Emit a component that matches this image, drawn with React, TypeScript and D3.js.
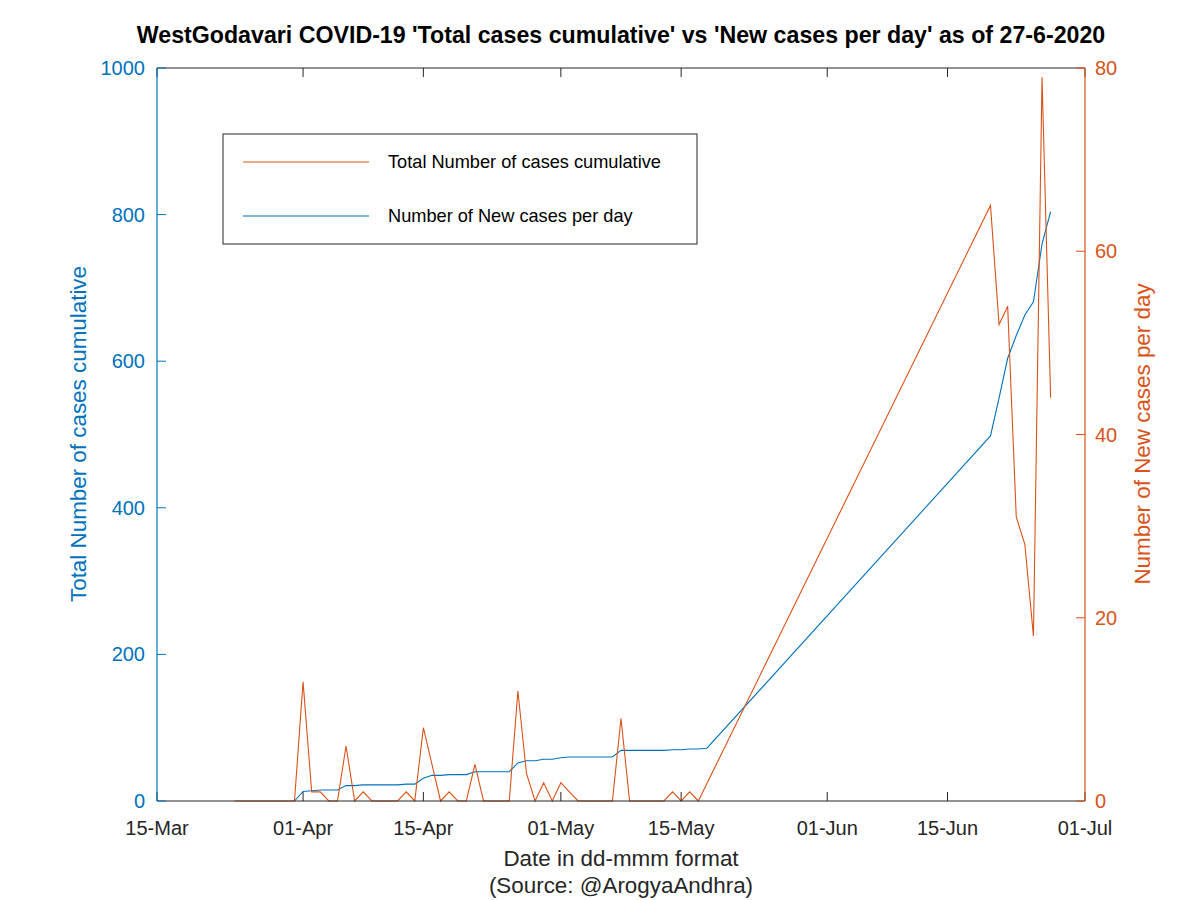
import React from "react";
import * as d3 from "d3";

const TITLE = "WestGodavari COVID-19 'Total cases cumulative' vs 'New cases per day' as of 27-6-2020";
const X_LABEL = "Date in dd-mmm format";
const X_SOURCE = "(Source: @ArogyaAndhra)";
const Y_LEFT_LABEL = "Total Number of cases cumulative";
const Y_RIGHT_LABEL = "Number of New cases per day";
const LEGEND_LABELS = ["Total Number of cases cumulative", "Number of New cases per day"];

const X_TICKS = ["2020-03-15", "2020-04-01", "2020-04-15", "2020-05-01", "2020-05-15", "2020-06-01", "2020-06-15", "2020-07-01"];
const LEFT_TICKS = [0, 200, 400, 600, 800, 1000];
const RIGHT_TICKS = [0, 20, 40, 60, 80];

// New cases per day (orange, right axis)
const newDates = [
  "03-24", "03-25", "03-26", "03-27", "03-28", "03-29", "03-30", "03-31",
  "04-01", "04-02", "04-03", "04-04", "04-05", "04-06", "04-07", "04-08", "04-09", "04-10",
  "04-11", "04-12", "04-13", "04-14", "04-15", "04-16", "04-17", "04-18", "04-19", "04-20",
  "04-21", "04-22", "04-23", "04-24", "04-25", "04-26", "04-27", "04-28", "04-29", "04-30",
  "05-01", "05-02", "05-03", "05-04", "05-05", "05-06", "05-07", "05-08", "05-09", "05-10",
  "05-11", "05-12", "05-13", "05-14", "05-15", "05-16", "05-17",
  "06-20", "06-21", "06-22", "06-23", "06-24", "06-25", "06-26", "06-27",
];
const newValues = [
  0, 0, 0, 0, 0, 0, 0, 0,
  13, 1, 1, 0, 0, 6, 0, 1, 0, 0,
  0, 0, 1, 0, 8, 4, 0, 1, 0, 0,
  4, 0, 0, 0, 0, 12, 3, 0, 2, 0,
  2, 1, 0, 0, 0, 0, 0, 9, 0, 0,
  0, 0, 0, 1, 0, 1, 0,
  65, 52, 54, 31, 28, 18, 79, 44,
];

// Total cumulative cases (blue, left axis)
const totalDates = [
  "03-31",
  "04-01", "04-02", "04-03", "04-04", "04-05", "04-06", "04-07", "04-08", "04-09", "04-10",
  "04-11", "04-12", "04-13", "04-14", "04-15", "04-16", "04-17", "04-18", "04-19", "04-20",
  "04-21", "04-22", "04-23", "04-24", "04-25", "04-26", "04-27", "04-28", "04-29", "04-30",
  "05-01", "05-02", "05-03", "05-04", "05-05", "05-06", "05-07", "05-08", "05-09", "05-10",
  "05-11", "05-12", "05-13", "05-14", "05-15", "05-16", "05-17", "05-18",
  "06-20", "06-21", "06-22", "06-23", "06-24", "06-25", "06-26", "06-27",
];
const totalValues = [
  0,
  13, 14, 15, 15, 15, 21, 21, 22, 22, 22,
  22, 22, 23, 23, 31, 35, 35, 36, 36, 36,
  40, 40, 40, 40, 40, 52, 55, 55, 57, 57,
  59, 60, 60, 60, 60, 60, 60, 69, 69, 69,
  69, 69, 69, 70, 70, 71, 71, 72,
  498, 550, 604, 635, 663, 681, 760, 804,
];

const BLUE = "#0072BD";
const ORANGE = "#D95319";
const FONT = "'Liberation Sans', Arial, Helvetica, sans-serif";

const parse = (s: string) => new Date(s.length === 5 ? `2020-${s}T00:00:00Z` : `${s}T00:00:00Z`);
const fmt = d3.utcFormat("%d-%b");

export default function App() {
  const W = 1200, H = 900;
  const x0 = 157, x1 = 1085, y0 = 68, y1 = 801;
  const x = d3.scaleUtc().domain([parse(X_TICKS[0]), parse(X_TICKS[X_TICKS.length - 1])]).range([x0, x1]);
  const yL = d3.scaleLinear().domain([0, 1000]).range([y1, y0]);
  const yR = d3.scaleLinear().domain([0, 80]).range([y1, y0]);

  const newPts = newDates.map((d, i) => [parse(d), newValues[i]] as [Date, number]);
  const totPts = totalDates.map((d, i) => [parse(d), totalValues[i]] as [Date, number]);
  const lineL = d3.line<[Date, number]>().x(d => x(d[0])).y(d => yL(d[1]));
  const lineR = d3.line<[Date, number]>().x(d => x(d[0])).y(d => yR(d[1]));

  const tick = 9;
  const fs = 20;
  const lfs = 22.4;

  return (
    <svg width={W} height={H} style={{ position: "absolute", left: 0, top: 0, background: "#fff" }} fontFamily={FONT}>
      <rect x={0} y={0} width={W} height={H} fill="#fff" />
      {/* top box line */}
      <line x1={x0} x2={x1} y1={y0} y2={y0} stroke="#262626" strokeWidth={1} />
      {/* data */}
      <path d={lineL(totPts) || ""} fill="none" stroke={BLUE} strokeWidth={1.1} />
      <path d={lineR(newPts) || ""} fill="none" stroke={ORANGE} strokeWidth={1.1} />
      {/* bottom axis */}
      <line x1={x0} x2={x1} y1={y1} y2={y1} stroke="#262626" strokeWidth={1.2} />
      {X_TICKS.map(t => {
        const px = x(parse(t));
        return (
          <g key={t}>
            <line x1={px} x2={px} y1={y1} y2={y1 - tick} stroke="#262626" />
            <line x1={px} x2={px} y1={y0} y2={y0 + tick} stroke="#262626" />
            <text x={px} y={y1 + 34} textAnchor="middle" fontSize={fs} fill="#262626">{fmt(parse(t))}</text>
          </g>
        );
      })}
      {/* left axis */}
      <line x1={x0} x2={x0} y1={y0} y2={y1} stroke={BLUE} strokeWidth={1.2} />
      {LEFT_TICKS.map(t => (
        <g key={t}>
          <line x1={x0} x2={x0 + tick} y1={yL(t)} y2={yL(t)} stroke={BLUE} />
          <text x={x0 - 12} y={yL(t)} dy="0.35em" textAnchor="end" fontSize={fs} fill={BLUE}>{t}</text>
        </g>
      ))}
      {/* right axis */}
      <line x1={x1} x2={x1} y1={y0} y2={y1} stroke={ORANGE} strokeWidth={1.2} />
      {RIGHT_TICKS.map(t => (
        <g key={t}>
          <line x1={x1} x2={x1 - tick} y1={yR(t)} y2={yR(t)} stroke={ORANGE} />
          <text x={x1 + 10} y={yR(t)} dy="0.35em" textAnchor="start" fontSize={fs} fill={ORANGE}>{t}</text>
        </g>
      ))}
      {/* labels */}
      <text x={621} y={866} textAnchor="middle" fontSize={lfs} fill="#262626">{X_LABEL}</text>
      <text x={621} y={893} textAnchor="middle" fontSize={lfs} fill="#262626">{X_SOURCE}</text>
      <text transform={`translate(86,434) rotate(-90)`} textAnchor="middle" fontSize={lfs} fill={BLUE}>{Y_LEFT_LABEL}</text>
      <text transform={`translate(1150,434) rotate(-90)`} textAnchor="middle" fontSize={lfs} fill={ORANGE}>{Y_RIGHT_LABEL}</text>
      <text x={621} y={43} textAnchor="middle" fontSize={23.2} fontWeight="bold" fill="#000">{TITLE}</text>
      {/* legend */}
      <rect x={223} y={134} width={474} height={110} fill="#fff" stroke="#262626" strokeWidth={1} />
      <line x1={243} x2={369} y1={162} y2={162} stroke={ORANGE} strokeWidth={1.1} />
      <text x={388} y={162} dy="0.35em" fontSize={18.2} fill="#000">{LEGEND_LABELS[0]}</text>
      <line x1={243} x2={369} y1={216} y2={216} stroke={BLUE} strokeWidth={1.1} />
      <text x={388} y={216} dy="0.35em" fontSize={18.2} fill="#000">{LEGEND_LABELS[1]}</text>
    </svg>
  );
}
